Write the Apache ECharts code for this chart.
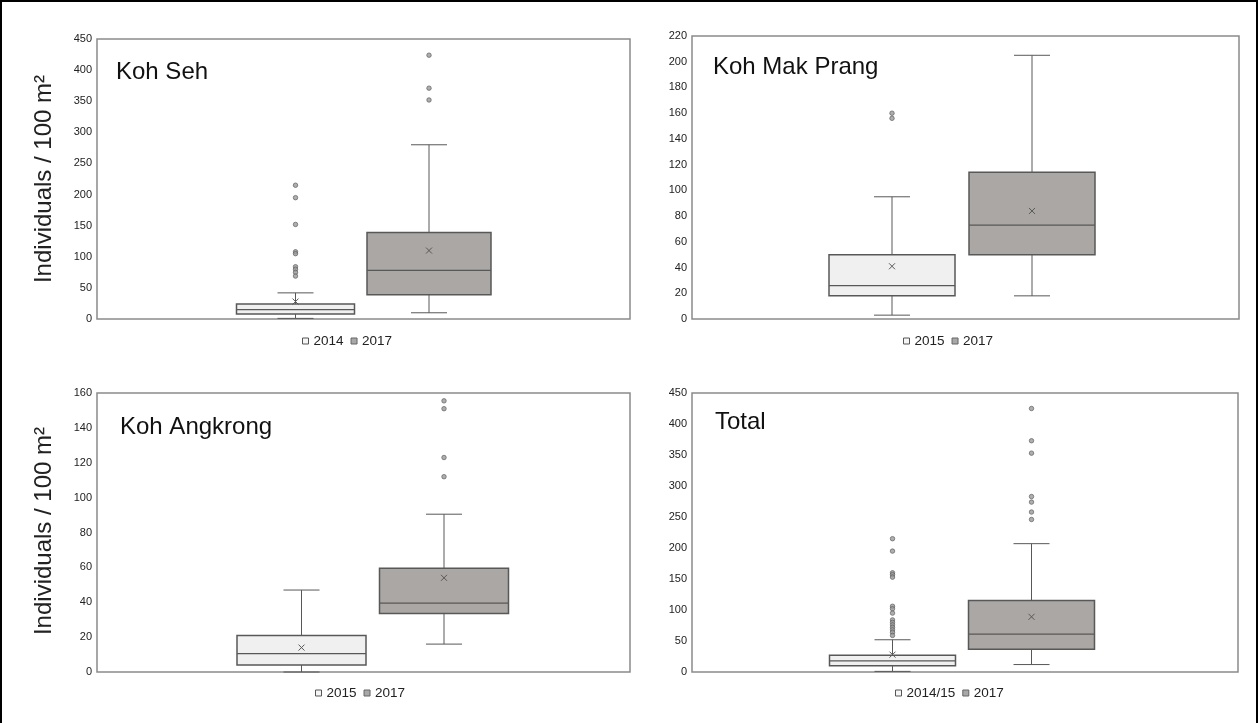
<!DOCTYPE html>
<html><head><meta charset="utf-8">
<script src="https://cdn.jsdelivr.net/npm/echarts@6/dist/echarts.min.js"></script>
<style>html,body{margin:0;padding:0;background:#fff}#c{width:1259px;height:723px}</style>
</head><body><div id="c"></div>
<script>
// ---------------- data ----------------
const panelTitles = ['Koh Seh', 'Koh Mak Prang', 'Koh Angkrong', 'Total'];
const earlyLabels = ['2014', '2015', '2015', '2014/15'];
const lateLabel = '2017';
const yMaxes = [450, 220, 160, 450];
const ySteps = [50, 20, 20, 50];
const yAxisTitle = 'Individuals / 100 m\u00B2';

// summaries: [min, Q1, median, Q3, max, mean]
const kohSehEarly = [1, 8, 15, 24, 42, 28];
const kohSehLate = [10, 39, 78, 139, 280, 110];
const kohSehEarlyOut = [215, 195, 152, 108, 105, 84, 80, 75, 69];
const kohSehLateOut = [424, 371, 352];

const kohMakPrangEarly = [3, 18, 26, 50, 95, 41];
const kohMakPrangLate = [18, 50, 73, 114, 205, 84];
const kohMakPrangEarlyOut = [160, 156];
const kohMakPrangLateOut = [];

const kohAngkrongEarly = [0, 4, 10.5, 21, 47, 14];
const kohAngkrongLate = [16, 33.5, 39.5, 59.5, 90.5, 54];
const kohAngkrongEarlyOut = [];
const kohAngkrongLateOut = [155.5, 151, 123, 112];

const totalEarly = [1, 10, 18, 27, 52, 28];
const totalLate = [12, 36.5, 61, 115.5, 207, 89];
const totalEarlyOut = [215, 195, 160, 157, 153, 106, 102, 95, 84, 80, 76, 72, 68, 64, 59];
const totalLateOut = [425, 373, 353, 283, 274, 258, 246];

const earlyStats = [kohSehEarly, kohMakPrangEarly, kohAngkrongEarly, totalEarly];
const lateStats = [kohSehLate, kohMakPrangLate, kohAngkrongLate, totalLate];
const earlyOut = [kohSehEarlyOut, kohMakPrangEarlyOut, kohAngkrongEarlyOut, totalEarlyOut];
const lateOut = [kohSehLateOut, kohMakPrangLateOut, kohAngkrongLateOut, totalLateOut];

// ---------------- layout / style ----------------
const layout = [
  {grid:{left:97, top:39, width:533, height:280}, dx:[-68, 65.5], boxW:[118,124], title:[116,60], yTitle:[44,179], legend:[302,334]},
  {grid:{left:692, top:36, width:547, height:283}, dx:[-73.5, 66.5], boxW:[126,126], title:[713,55], legend:[903,334]},
  {grid:{left:97, top:393, width:533, height:279}, dx:[-62, 80.5], boxW:[129,129], title:[120,415], yTitle:[44,531], legend:[315,686]},
  {grid:{left:692, top:393, width:546, height:279}, dx:[-72.5, 66.5], boxW:[126,126], title:[715,410], legend:[895,686]}
];
const EARLY_FILL = '#f0f0f0', LATE_FILL = '#aaa7a4', EDGE = '#585858';
const CAP = 18;
const SANS = "'Liberation Sans', Arial, sans-serif";

function boxRenderer(dx, halfW, fill) {
  return function (params, api) {
    const cx = api.coord([0, api.value(3)])[0] + dx;
    const y = k => api.coord([0, api.value(k)])[1];
    const yMin = y(1), yQ1 = y(2), yMed = y(3), yQ3 = y(4), yMx = y(5), yMean = y(6);
    const line = (x1, y1, x2, y2, w) => ({type:'line', shape:{x1, y1, x2, y2}, style:{stroke:EDGE, lineWidth:w || 1}});
    return {type:'group', children:[
      line(cx, yQ3, cx, yMx), line(cx - CAP, yMx, cx + CAP, yMx),
      line(cx, yQ1, cx, yMin), line(cx - CAP, yMin, cx + CAP, yMin),
      {type:'rect', shape:{x:cx - halfW, y:yQ3, width:2 * halfW, height:yQ1 - yQ3}, style:{fill, stroke:EDGE, lineWidth:1.5}},
      line(cx - halfW, yMed, cx + halfW, yMed, 1.2),
      line(cx - 3, yMean - 3, cx + 3, yMean + 3), line(cx - 3, yMean + 3, cx + 3, yMean - 3)
    ]};
  };
}

const grids = [], xAxes = [], yAxes = [], series = [], titles = [], legends = [], graphics = [];
layout.forEach((L, i) => {
  grids.push(Object.assign({show:true, borderColor:'#8a8a8a', borderWidth:1.5, backgroundColor:'#fff'}, L.grid));
  xAxes.push({type:'category', gridIndex:i, data:[panelTitles[i]], show:false});
  yAxes.push({type:'value', gridIndex:i, min:0, max:yMaxes[i], interval:ySteps[i],
    axisLine:{show:false}, axisTick:{show:false}, splitLine:{show:false},
    axisLabel:{fontFamily:SANS, fontSize:11, color:'#222', margin:5}});
  const groups = [[earlyLabels[i], earlyStats[i], earlyOut[i], EARLY_FILL], [lateLabel, lateStats[i], lateOut[i], LATE_FILL]];
  groups.forEach((g, j) => {
    series.push({type:'custom', name:g[0], xAxisIndex:i, yAxisIndex:i,
      itemStyle:{color:g[3], borderColor:EDGE},
      encode:{x:0, y:[1,2,3,4,5,6]},
      data:[[0].concat(g[1])],
      renderItem: boxRenderer(L.dx[j], L.boxW[j] / 2, g[3]), silent:true});
    if (g[2].length) series.push({type:'scatter', name:g[0], xAxisIndex:i, yAxisIndex:i,
      symbol:'circle', symbolSize:4.5, symbolOffset:[L.dx[j], 0],
      itemStyle:{color:'#9a9a9a', borderColor:'#555', borderWidth:0.8},
      data:g[2].map(v => [0, v]), silent:true});
  });
  titles.push({text:panelTitles[i], left:L.title[0], top:L.title[1], padding:0,
    textStyle:{fontFamily:SANS, fontSize:24, fontWeight:'normal', color:'#111'}});
  legends.push({left:L.legend[0], top:L.legend[1], padding:0, itemWidth:6, itemHeight:6, itemGap:7,
    selectedMode:false, icon:'rect',
    textStyle:{fontFamily:SANS, fontSize:13.5, color:'#222'},
    data:[{name:earlyLabels[i], itemStyle:{color:'#f6f6f6', borderColor:'#555', borderWidth:1}},
          {name:lateLabel, itemStyle:{color:'#a8a8a8', borderColor:'#666', borderWidth:1}}]});
  if (L.yTitle) graphics.push({type:'text', x:L.yTitle[0], y:L.yTitle[1], rotation:Math.PI / 2,
    style:{text:yAxisTitle, font:'24px ' + SANS, fill:'#222', align:'center', verticalAlign:'middle'}});
});
graphics.push({type:'polyline', shape:{points:[[1,723],[1,1],[1257,1],[1257,723]]}, style:{stroke:'#000', lineWidth:2, fill:null}});

const chart = echarts.init(document.getElementById('c'), null, {renderer:'canvas'});
chart.setOption({animation:false, backgroundColor:'#fff', title:titles, legend:legends,
  grid:grids, xAxis:xAxes, yAxis:yAxes, series, graphic:graphics});
</script></body></html>
